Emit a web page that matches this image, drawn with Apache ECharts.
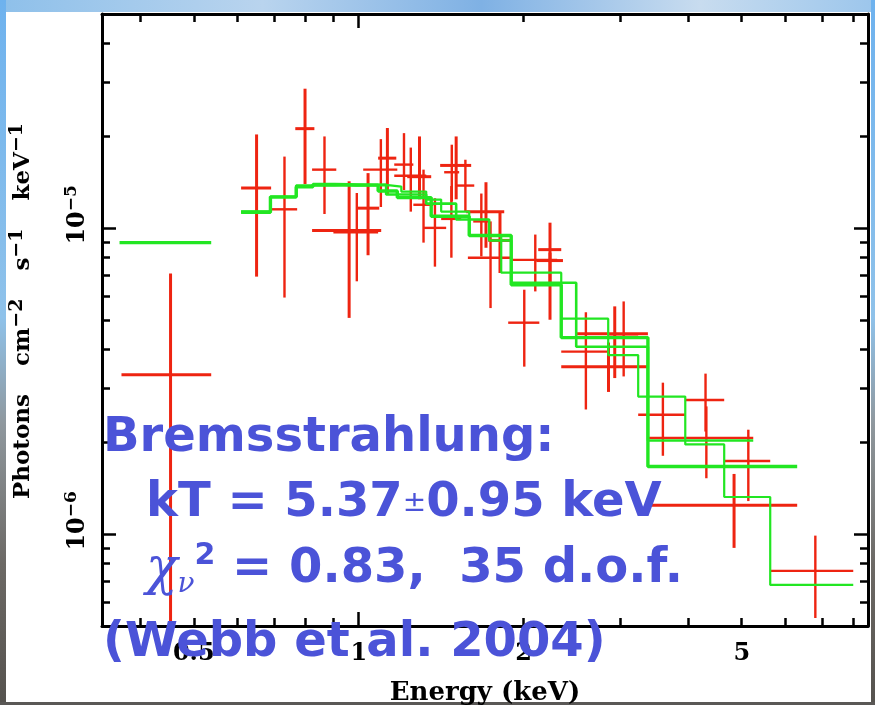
<!DOCTYPE html>
<html>
<head>
<meta charset="utf-8">
<script src="https://cdn.jsdelivr.net/npm/echarts@6/dist/echarts.min.js"></script>
<style>
  html, body { margin: 0; padding: 0; background: #fff; }
  #chart { width: 875px; height: 705px; }
</style>
</head>
<body>
<div id="chart"></div>
<script>
// Flux values below are in units of 1e-6 photons cm^-2 s^-1 keV^-1
const U = 1e-6;

// Axis ticks and labels
const energyMinorTicks = [0.4, 0.5, 0.6, 0.7, 0.8, 0.9, 2, 3, 4, 5, 6, 7, 8];
const energyMajorTicks = [1];
const energyTickLabels = [0.5, 1, 2, 5];
const fluxMinorTicks = [6e-7, 7e-7, 8e-7, 9e-7, 2e-6, 3e-6, 4e-6, 5e-6, 6e-6, 7e-6, 8e-6, 9e-6, 2e-5, 3e-5, 4e-5];
const fluxMajorTicks = [1e-6, 1e-5];
const fluxTickLabels = [1e-6, 1e-5];

// Spectral bins drawn with heavy strokes: bin edges (keV), flux, lower and upper flux bound
const heavyLo   = [0.369, 0.610, 0.766, 0.822, 0.990, 1.085, 1.226, 1.408, 1.571, 1.723, 2.126, 2.109, 2.342, 2.494, 3.371];
const heavyHi   = [0.538, 0.692, 0.830, 1.099, 1.090, 1.171, 1.356, 1.604, 1.843, 1.898, 2.342, 2.359, 3.371, 3.371, 6.312];
const heavyFlux = [3.31, 13.5, 21.1, 9.80, 11.6, 16.9, 14.7, 16.0, 11.3, 9.1, 8.49, 7.82, 3.52, 4.51, 1.24];
const heavyLow  = [0.1, 6.93, 13.9, 5.08, 8.14, 12.9, 12.4, 12.4, 8.61, 7.12, 5.01, 6.62, 2.91, 3.23, 0.90];
const heavyHigh = [7.09, 20.2, 28.5, 14.2, 15.1, 21.2, 19.9, 19.9, 14.1, 11.2, 10.4, 8.30, 4.22, 5.54, 1.57];

// Spectral bins drawn with light strokes
const lightLo   = [0.692, 0.822, 0.899, 1.019, 1.161, 1.161, 1.258, 1.311, 1.432, 1.414, 1.506, 1.618, 1.582, 1.874, 1.898, 2.342, 2.853, 3.236, 3.944, 3.371, 4.645, 5.636];
const lightHi   = [0.772, 0.910, 1.085, 1.176, 1.258, 1.328, 1.368, 1.444, 1.525, 1.538, 1.625, 1.730, 1.898, 2.136, 2.302, 2.853, 3.236, 3.944, 4.645, 5.248, 5.636, 7.989];
const lightFlux = [11.5, 15.5, 9.67, 15.5, 16.1, 14.8, 11.9, 10.0, 15.2, 10.7, 13.75, 10.5, 7.99, 4.90, 7.86, 3.94, 4.41, 2.45, 2.74, 2.06, 1.73, 0.757];
const lightLow  = [5.92, 11.1, 6.69, 11.7, 13.3, 11.3, 8.95, 7.47, 12.2, 7.99, 11.3, 8.07, 5.47, 3.52, 6.20, 2.55, 3.27, 1.80, 2.16, 1.52, 1.28, 0.531];
const lightHigh = [17.1, 19.9, 13.0, 19.5, 20.4, 18.3, 15.5, 12.5, 18.7, 13.7, 16.7, 12.95, 10.5, 6.28, 9.51, 5.3, 5.75, 3.12, 3.34, 2.61, 2.19, 0.987];

// Bremsstrahlung model, folded per instrument: bin edges (keV) and model flux per bin
const modelAEdges = [0.610, 0.690, 0.769, 0.825, 0.902, 0.990, 1.132, 1.196, 1.328, 1.414, 1.591, 1.820, 2.342, 2.853, 3.236, 3.944, 4.645, 5.636, 7.989];
const modelAFlux  = [11.25, 12.63, 13.62, 13.86, 13.75, 13.8, 13.65, 13.14, 12.37, 11.31, 9.44, 7.14, 5.05, 3.84, 2.81, 1.96, 1.32, 0.681];
const modelBSoftEdges = [0.366, 0.538];
const modelBSoftFlux  = [8.95];
const modelBEdges = [0.610, 0.690, 0.769, 0.825, 0.902, 1.085, 1.176, 1.356, 1.591, 1.898, 2.342, 3.371, 6.312];
const modelBFlux  = [11.25, 12.63, 13.62, 13.86, 13.8, 13.2, 12.56, 10.91, 9.44, 6.52, 4.38, 1.66];
const modelCEdges = [0.610, 0.690, 0.769, 0.902, 1.122, 1.328, 1.506, 1.730, 1.898, 2.494, 3.371, 5.248];
const modelCFlux  = [11.3, 12.6, 13.75, 13.86, 12.85, 12.0, 10.65, 9.09, 6.62, 4.09, 2.02];

const RED = '#ee2411';
const GREEN = '#22e622';
const BLUE = '#4b53d8';
const AXIS_FONT = '"DejaVu Serif", "Liberation Serif", serif';

function stepLine(edges, values) {
  const pts = [];
  values.forEach((v, i) => { pts.push([edges[i], v * U], [edges[i + 1], v * U]); });
  return pts;
}

function crossSeries(lo, hi, flux, low, high, width) {
  return {
    type: 'custom',
    clip: true,
    z: 2,
    data: lo.map((l, i) => [l, hi[i], flux[i] * U, low[i] * U, high[i] * U]),
    encode: { x: [0, 1], y: [2, 3, 4] },
    renderItem(params, api) {
      const eLo = api.value(0), eHi = api.value(1);
      const f = api.value(2), fLow = api.value(3), fHigh = api.value(4);
      const eMid = (eLo + eHi) / 2;
      const a = api.coord([eLo, f]), b = api.coord([eHi, f]);
      const c = api.coord([eMid, fHigh]), d = api.coord([eMid, fLow]);
      const style = { stroke: RED, lineWidth: width };
      return {
        type: 'group',
        children: [
          { type: 'line', shape: { x1: a[0], y1: a[1], x2: b[0], y2: b[1] }, style },
          { type: 'line', shape: { x1: c[0], y1: c[1], x2: d[0], y2: d[1] }, style }
        ]
      };
    }
  };
}

function modelSeries(edges, values, width) {
  return {
    type: 'line',
    data: stepLine(edges, values),
    showSymbol: false,
    silent: true,
    z: 3,
    lineStyle: { color: GREEN, width: width },
    clip: true
  };
}

function energyAxis(position, ticks, len, withLine, withLabels) {
  return {
    type: 'log', logBase: 10, min: 0.34, max: 8.5, position,
    axisLine: { show: withLine, onZero: false, lineStyle: { color: '#000', width: 3 } },
    axisTick: { show: true, inside: true, length: len, customValues: ticks, lineStyle: { color: '#000', width: 2.5 } },
    axisLabel: withLabels ? {
      show: true, customValues: energyTickLabels, margin: 16,
      color: '#000', fontFamily: AXIS_FONT, fontWeight: 'bold', fontSize: 24,
      formatter: v => String(v)
    } : { show: false },
    splitLine: { show: false },
    minorTick: { show: false }
  };
}

function fluxAxis(position, ticks, len, withLine, withLabels) {
  return {
    type: 'log', logBase: 10, min: 5e-7, max: 5e-5, position,
    axisLine: { show: withLine, onZero: false, lineStyle: { color: '#000', width: 3 } },
    axisTick: { show: true, inside: true, length: len, customValues: ticks, lineStyle: { color: '#000', width: 2.5 } },
    axisLabel: withLabels ? {
      show: true, customValues: fluxTickLabels, margin: 9, rotate: 90,
      color: '#000', fontFamily: AXIS_FONT, fontWeight: 'bold',
      formatter: v => '{pad|}{b|10}{s|−' + Math.round(-Math.log10(v)) + '}',
      rich: {
        pad: { width: 26, fontSize: 24, lineHeight: 30 },
        b: { fontSize: 24, lineHeight: 30, fontFamily: AXIS_FONT, fontWeight: 'bold', color: '#000' },
        s: { fontSize: 17, lineHeight: 30, verticalAlign: 'top', fontFamily: AXIS_FONT, fontWeight: 'bold', color: '#000' }
      }
    } : { show: false },
    splitLine: { show: false },
    minorTick: { show: false }
  };
}

const chart = echarts.init(document.getElementById('chart'), null, { renderer: 'canvas' });

const bandTop = { type: 'linear', x: 0, y: 0, x2: 1, y2: 0,
  colorStops: [{ offset: 0, color: '#8ec0ea' }, { offset: 0.3, color: '#b9d4ee' }, { offset: 0.55, color: '#7fb1e4' }, { offset: 0.8, color: '#c8dcef' }, { offset: 1, color: '#9cc6ec' }] };
const bandSide = { type: 'linear', x: 0, y: 0, x2: 0, y2: 1,
  colorStops: [{ offset: 0, color: '#6eb2ee' }, { offset: 0.45, color: '#8fc2ea' }, { offset: 0.6, color: '#8f989e' }, { offset: 0.8, color: '#6c6965' }, { offset: 1, color: '#55524e' }] };

const supStyle = { fontSize: 19, lineHeight: 30, verticalAlign: 'top', fontFamily: AXIS_FONT, fontWeight: 'bold', fill: '#000' };

chart.setOption({
  animation: false,
  backgroundColor: '#fff',
  grid: { left: 102, right: 7, top: 14, bottom: 79, containLabel: false, outerBoundsMode: 'none' },
  xAxis: [
    Object.assign(energyAxis('bottom', energyMinorTicks, 8, true, true), {
      name: 'Energy (keV)', nameLocation: 'middle', nameGap: 54,
      nameTextStyle: { fontFamily: AXIS_FONT, fontWeight: 'bold', fontSize: 26, color: '#000' }
    }),
    energyAxis('bottom', energyMajorTicks, 14, false, false),
    energyAxis('top', energyMinorTicks, 8, true, false),
    energyAxis('top', energyMajorTicks, 14, false, false)
  ],
  yAxis: [
    fluxAxis('left', fluxMinorTicks, 8, true, true),
    fluxAxis('left', fluxMajorTicks, 14, false, false),
    fluxAxis('right', fluxMinorTicks, 8, true, false),
    fluxAxis('right', fluxMajorTicks, 14, false, false)
  ],
  series: [
    crossSeries(heavyLo, heavyHi, heavyFlux, heavyLow, heavyHigh, 3),
    crossSeries(lightLo, lightHi, lightFlux, lightLow, lightHigh, 2.4),
    modelSeries(modelAEdges, modelAFlux, 2.2),
    modelSeries(modelCEdges, modelCFlux, 2.6),
    modelSeries(modelBSoftEdges, modelBSoftFlux, 3.4),
    modelSeries(modelBEdges, modelBFlux, 3.4)
  ],
  graphic: [
    { type: 'rect', silent: true, shape: { x: 0, y: 0, width: 875, height: 12 }, style: { fill: bandTop } },
    { type: 'rect', silent: true, shape: { x: 0, y: 0, width: 6, height: 705 }, style: { fill: bandSide } },
    { type: 'rect', silent: true, shape: { x: 871, y: 0, width: 4, height: 705 }, style: { fill: bandSide } },
    { type: 'rect', silent: true, shape: { x: 0, y: 702, width: 875, height: 3 }, style: { fill: '#5a5856' } },
    {
      type: 'text', x: 23, y: 311, rotation: Math.PI / 2, silent: true,
      style: {
        text: 'Photons{g|}cm{s|−2}{g|}s{s|−1}{g|}keV{s|−1}',
        align: 'center', verticalAlign: 'middle',
        fill: '#000', font: 'bold 23px ' + AXIS_FONT,
        rich: {
          s: supStyle,
          g: { width: 28, lineHeight: 30 }
        }
      }
    },
    { type: 'text', x: 103, y: 439, z: 100, silent: true,
      style: { text: 'Bremsstrahlung:', fill: BLUE, font: 'bold 48px "DejaVu Sans"', verticalAlign: 'middle' } },
    { type: 'text', x: 146, y: 504, z: 100, silent: true,
      style: { text: 'kT = 5.37{pm|±}0.95 keV', fill: BLUE, font: 'bold 48px "DejaVu Sans"', verticalAlign: 'middle',
        rich: { pm: { fontSize: 28, fontFamily: 'DejaVu Sans', fill: BLUE, fontWeight: 'normal' } } } },
    { type: 'text', x: 146, y: 570, z: 100, silent: true,
      style: { text: '{chi|χ}{nu|ν}{two|2} = 0.83,  35 d.o.f.', fill: BLUE, font: 'bold 48px "DejaVu Sans"', verticalAlign: 'middle',
        rich: {
          chi: { fontSize: 52, fontFamily: '"DejaVu Serif"', fontStyle: 'italic', fontWeight: 'normal', fill: BLUE },
          nu: { fontSize: 28, fontFamily: '"DejaVu Serif"', fontStyle: 'italic', fontWeight: 'normal', fill: BLUE, verticalAlign: 'bottom', lineHeight: 58 },
          two: { fontSize: 30, fontFamily: '"DejaVu Sans"', fontWeight: 'bold', fill: BLUE, verticalAlign: 'top', lineHeight: 58 }
        } } },
    { type: 'text', x: 103, y: 644, z: 100, silent: true,
      style: { text: '(Webb et al. 2004)', fill: BLUE, font: 'bold 48px "DejaVu Sans"', verticalAlign: 'middle' } }
  ]
});
</script>
</body>
</html>
